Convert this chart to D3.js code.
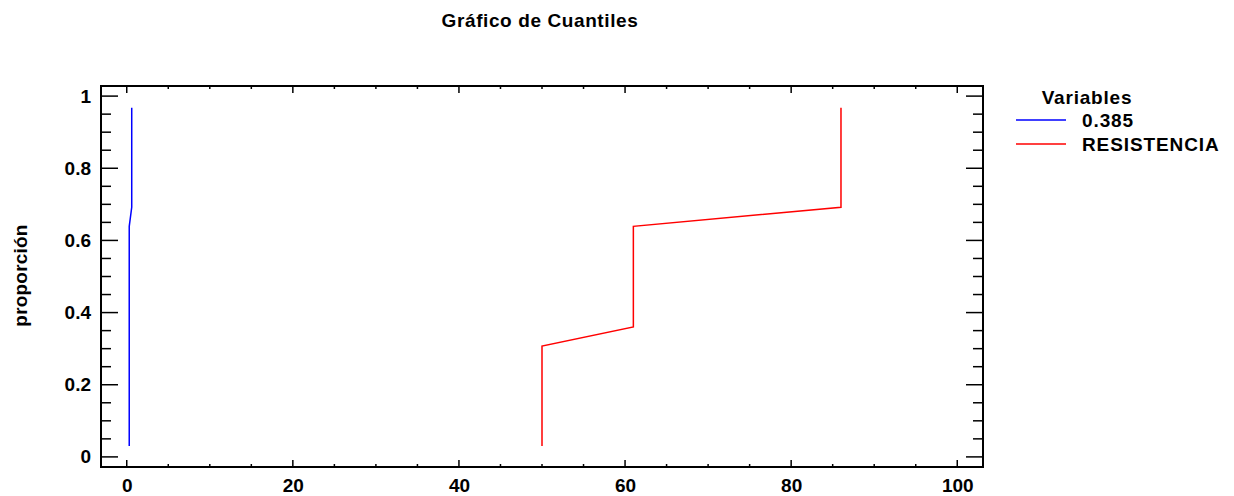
<!DOCTYPE html>
<html>
<head>
<meta charset="utf-8">
<script src="https://cdn.jsdelivr.net/npm/d3@7"></script>
<style>
  html, body { margin: 0; padding: 0; background: #fff; }
  svg { display: block; font-family: Arial, "Liberation Sans", sans-serif; font-weight: bold; }
</style>
</head>
<body>
<svg id="chart" width="1234" height="496"></svg>
<script>
// Quantile plot data: each series is a step path of (value, proportion)
const seriesNames = ["0.385", "RESISTENCIA"];
const seriesColors = ["#0000ff", "#ff0000"];
const blueValues = [0.3, 0.3, 0.3, 0.3, 0.6, 0.6];
const blueProps  = [0.03, 0.307, 0.36, 0.639, 0.692, 0.968];
const redValues  = [50, 50, 61, 61, 86, 86];
const redProps   = [0.03, 0.307, 0.36, 0.639, 0.692, 0.968];
const xTickValues = [0, 20, 40, 60, 80, 100];
const yTickValues = [0, 0.2, 0.4, 0.6, 0.8, 1];
const yTickLabels = ["0", "0.2", "0.4", "0.6", "0.8", "1"];

const svg = d3.select("#chart");
const plotL = 101, plotR = 983, plotT = 86, plotB = 467;
const FONT = "Arial, 'Liberation Sans', sans-serif";

const x = d3.scaleLinear().domain([-3.1, 103.1]).range([plotL, plotR]);
const y = d3.scaleLinear().domain([-0.028, 1.028]).range([plotB, plotT]);

// Title
svg.append("text")
  .attr("x", 540).attr("y", 27)
  .attr("text-anchor", "middle")
  .style("font-size", "19px")
  .style("letter-spacing", "0.6px")
  .text("Gráfico de Cuantiles");

// Y axis title
svg.append("text")
  .attr("transform", `translate(27,${(plotT + plotB) / 2 - 1}) rotate(-90)`)
  .attr("text-anchor", "middle")
  .style("font-size", "19px")
  .style("letter-spacing", "0.2px")
  .text("proporción");

// Minor/major ticks on all four sides, pointing inward
const yMinor = d3.range(0, 1.0001, 0.05);
const xMinor = d3.range(0, 100.0001, 5);
const tickG = svg.append("g").attr("stroke", "#000").attr("stroke-width", 1.5);

yMinor.forEach(v => {
  const major = Math.abs(v * 5 - Math.round(v * 5)) < 1e-6;
  const len = major ? 17 : 10;
  tickG.append("line").attr("x1", plotL).attr("x2", plotL + len).attr("y1", y(v)).attr("y2", y(v));
  tickG.append("line").attr("x1", plotR).attr("x2", plotR - len).attr("y1", y(v)).attr("y2", y(v));
});
xMinor.forEach(v => {
  const major = v % 20 === 0;
  const len = major ? 7 : 3;
  tickG.append("line").attr("x1", x(v)).attr("x2", x(v)).attr("y1", plotB).attr("y2", plotB - len);
  tickG.append("line").attr("x1", x(v)).attr("x2", x(v)).attr("y1", plotT).attr("y2", plotT + len);
});

// Axis tick labels via d3 axes (tick lines hidden)
const xAxis = d3.axisBottom(x).tickValues(xTickValues).tickSize(0).tickPadding(12).tickFormat(d3.format("d"));
const gx = svg.append("g").attr("transform", `translate(0,${plotB})`).call(xAxis);
gx.select(".domain").remove();
gx.selectAll("text").style("font-size", "19px").style("font-family", FONT).style("font-weight", "bold").attr("fill", "#000");

const yAxis = d3.axisLeft(y).tickValues(yTickValues).tickSize(0).tickPadding(10)
  .tickFormat((d, i) => yTickLabels[i]);
const gy = svg.append("g").attr("transform", `translate(${plotL},0)`).call(yAxis);
gy.select(".domain").remove();
gy.selectAll("text").style("font-size", "19px").style("font-family", FONT).style("font-weight", "bold").attr("fill", "#000");

// Frame
svg.append("rect")
  .attr("x", plotL).attr("y", plotT)
  .attr("width", plotR - plotL).attr("height", plotB - plotT)
  .attr("fill", "none").attr("stroke", "#000").attr("stroke-width", 2);

// Series lines
const line = d3.line().x(d => x(d[0])).y(d => y(d[1]));
const series = [
  d3.zip(blueValues, blueProps),
  d3.zip(redValues, redProps)
];
series.forEach((pts, i) => {
  svg.append("path")
    .datum(pts)
    .attr("d", line)
    .attr("fill", "none")
    .attr("stroke", seriesColors[i])
    .attr("stroke-width", 1.5);
});

// Legend
const lg = svg.append("g");
lg.append("text").attr("x", 1087).attr("y", 104).attr("text-anchor", "middle")
  .style("font-size", "19px").style("letter-spacing", "0.8px").text("Variables");
seriesNames.forEach((name, i) => {
  const yy = 120 + i * 24;
  lg.append("line").attr("x1", 1016).attr("x2", 1066).attr("y1", yy).attr("y2", yy)
    .attr("stroke", seriesColors[i]).attr("stroke-width", 1.5);
  lg.append("text").attr("x", 1082).attr("y", yy + 7)
    .style("font-size", "19px").style("letter-spacing", "0.9px").text(name);
});
</script>
</body>
</html>
